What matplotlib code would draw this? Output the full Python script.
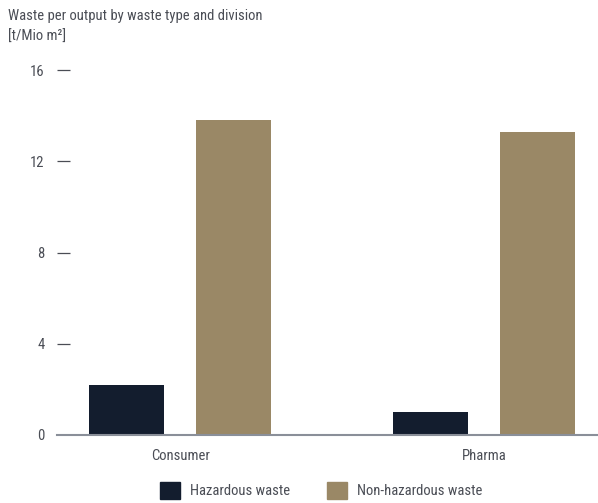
import matplotlib.pyplot as plt
import numpy as np
from matplotlib.patches import Patch

# Abfall pro Output nach Abfallart und Division
divisions = ['Consumer', 'Pharma']
hazardous = [2.2, 1.0]
non_hazardous = [13.8, 13.3]
yticks = [0, 4, 8, 12, 16]

c_haz = '#131d2e'
c_non = '#9a8866'
c_text = '#4a4d55'

plt.rcParams['font.family'] = ['Roboto Condensed', 'IBM Plex Sans Condensed',
                               'DejaVu Sans']
plt.rcParams['font.size'] = 10.5

fig = plt.figure(figsize=(5.98, 5.03), dpi=100)
ax = fig.add_axes([57/598, 1 - 435/503, 1 - 57/598, 365/503])

x = np.arange(len(divisions))
w = 0.247
off = 0.176
ax.bar(x - off, hazardous, w, color=c_haz)
ax.bar(x + off, non_hazardous, w, color=c_non)

ax.set_ylim(0, 16)
ax.set_xlim(-0.405, 1.375)
ax.set_yticks(yticks)
ax.set_yticklabels([str(t) for t in yticks])
ax.set_xticks(x)
ax.set_xticklabels(divisions)

for s in ['top', 'right', 'left']:
    ax.spines[s].set_visible(False)
ax.spines['bottom'].set_color('#8a8f99')
ax.spines['bottom'].set_linewidth(1.5)

# kurze Striche rechts neben den Zahlen
ax.tick_params(axis='y', direction='in', length=9.5, width=0.9, color=c_text,
               labelcolor=c_text, pad=9)
ax.tick_params(axis='x', length=0, labelcolor=c_text, pad=10)
ax.yaxis.get_major_ticks()[0].tick1line.set_visible(False)

fig.text(8/598, 1 - 20/503, 'Waste per output by waste type and division',
         color=c_text, va='baseline')
fig.text(8/598, 1 - 41/503, '[t/Mio m²]', color=c_text, va='baseline')

handles = [Patch(color=c_haz, label='Hazardous waste'),
           Patch(color=c_non, label='Non-hazardous waste')]
leg = fig.legend(handles=handles, loc='lower center', ncol=2, frameon=False,
                 bbox_to_anchor=(0.537, -0.018), handlelength=1.4,
                 handleheight=1.4, columnspacing=2.5, handletextpad=0.7)
for t in leg.get_texts():
    t.set_color(c_text)

fig.savefig('out.png', dpi=100)
